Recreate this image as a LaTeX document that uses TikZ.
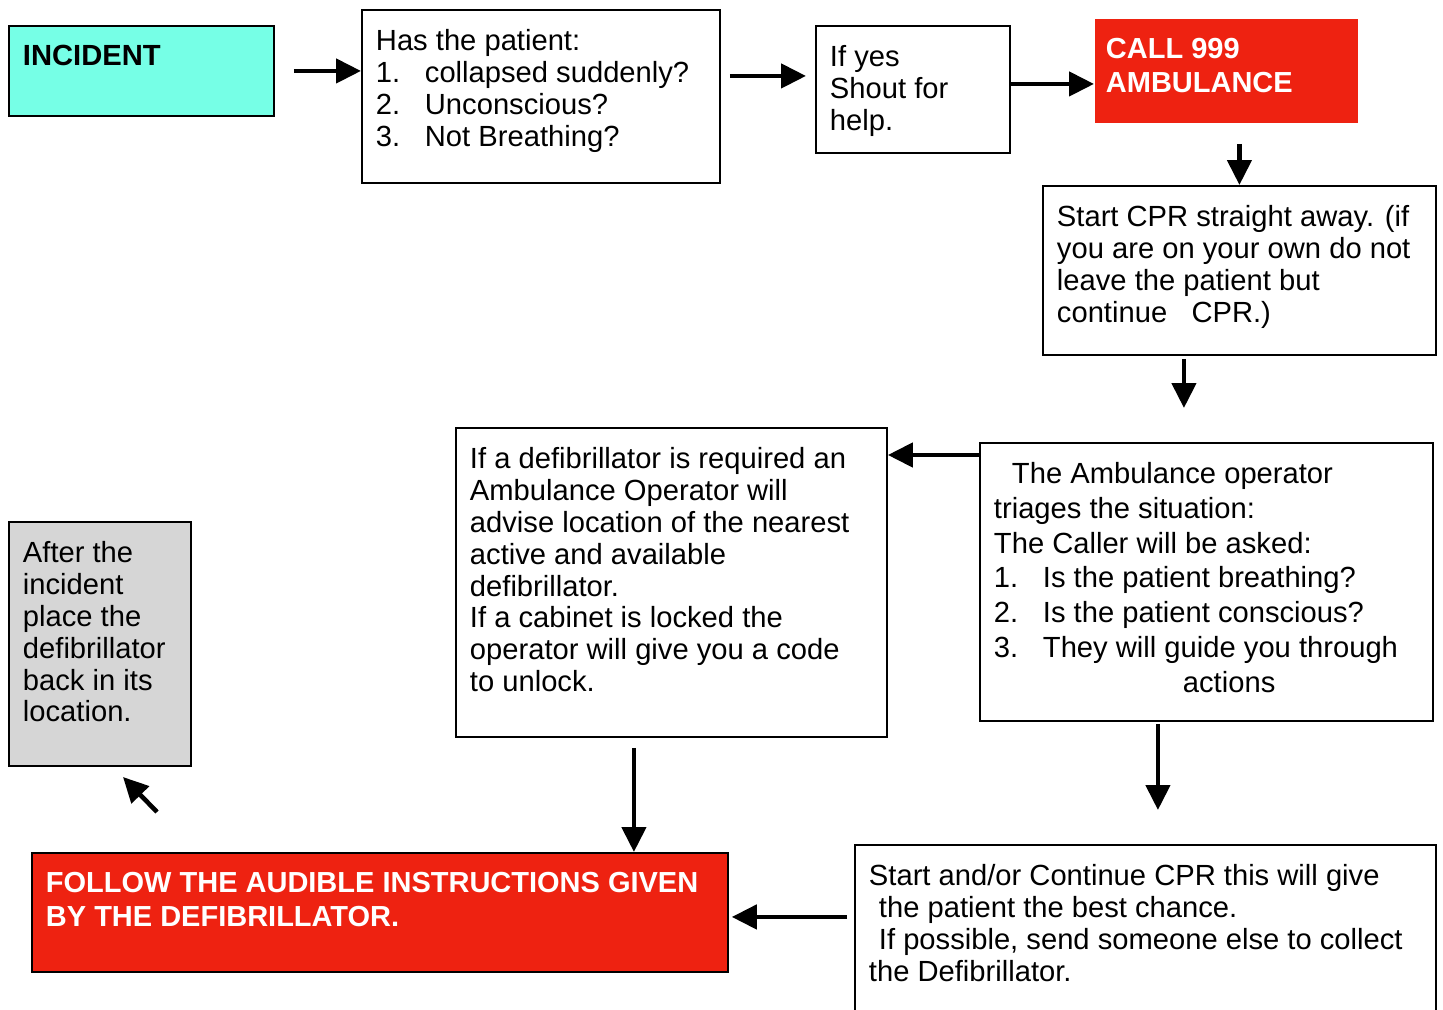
\documentclass[tikz,border=0pt]{standalone}
\usepackage{fontspec}
\setmainfont{Liberation Sans}
\usetikzlibrary{arrows.meta}
\definecolor{incidentcyan}{RGB}{118,255,230}
\definecolor{callred}{RGB}{238,34,17}
\definecolor{aftergrey}{RGB}{214,214,214}
\newcommand{\boxtext}[3]{\parbox[c][#2][t]{#1}{\raggedright #3}}
\newcommand{\listno}[1]{\makebox[0.98cm][l]{#1}}
\begin{document}
\begin{tikzpicture}[x=0.02cm, y=-0.02cm,
  box/.style={draw, line width=1.1pt, anchor=north west, inner xsep=0.28cm, inner ysep=0.38cm, font=\fontsize{16.6}{18.2}\selectfont},
  loud/.style={text=white, font=\fontsize{16.5}{19.4}\selectfont\bfseries},
  arr/.style={line width=2.6pt, -{Triangle[length=0.5cm,width=0.48cm]}}]%
  \useasboundingbox (0,0) rectangle (1443,1010);
  \node [box, fill=incidentcyan] (incident) at (8,25) {\boxtext{4.74cm}{1.04cm}{\bfseries INCIDENT}};
  \node [box] (patient) at (361,9) {\boxtext{6.60cm}{2.70cm}{Has the patient:\\ \listno{1.}collapsed suddenly?\\ \listno{2.}Unconscious?\\ \listno{3.}Not Breathing?}};
  \node [box] (yes) at (815,25) {\boxtext{3.32cm}{1.78cm}{If yes\\ Shout for\\ help.}};
  \node [box, draw=none, fill=callred, loud, inner xsep=0.22cm] (call) at (1094,18) {\boxtext{4.82cm}{1.32cm}{CALL 999\\ AMBULANCE}};
  \node [box] (cpr) at (1042,185) {\boxtext{7.30cm}{2.62cm}{Start CPR straight away. (if\\ you are on your own do not\\ leave the patient but\\ continue\ \ \ CPR.)}};
  \node [box, font=\fontsize{16.6}{19.9}\selectfont] (triage) at (979,442) {\boxtext{8.50cm}{4.80cm}{\hspace*{0.36cm}The Ambulance operator\\ triages the situation:\\ The Caller will be asked:\\ \listno{1.}Is the patient breathing?\\ \listno{2.}Is the patient conscious?\\ \listno{3.}They will guide you through\\ \hspace*{3.78cm}actions}};
  \node [box] (defib) at (455,427) {\boxtext{8.06cm}{5.42cm}{If a defibrillator is required an\\ Ambulance Operator will\\ advise location of the nearest\\ active and available\\ defibrillator.\\ If a cabinet is locked the\\ operator will give you a code\\ to unlock.}};
  \node [box, fill=aftergrey] (after) at (8,521) {\boxtext{3.08cm}{4.12cm}{After the\\ incident\\ place the\\ defibrillator\\ back in its\\ location.}};
  \node [box, fill=callred, loud] (follow) at (31,852) {\boxtext{13.36cm}{1.62cm}{FOLLOW THE AUDIBLE INSTRUCTIONS GIVEN\\ BY THE DEFIBRILLATOR.}};
  \node [box] (keepcpr) at (854,844) {\boxtext{11.06cm}{2.96cm}{Start and/or Continue CPR this will give\\ \hspace*{0.2cm}the patient the best chance.\\ \hspace*{0.2cm}If possible, send someone else to collect\\ the Defibrillator.}};
  % arrows
  \coordinate (p2) at ([yshift=0.41cm]patient.east);
  \coordinate (y3) at ([yshift=0.11cm]yes.east);
  \coordinate (c5) at ([xshift=-1.11cm]cpr.south);
  \coordinate (t6) at ([yshift=-0.26cm]triage.north west);
  \coordinate (t7) at ([xshift=-0.97cm]triage.south);
  \coordinate (d8) at ([xshift=-0.75cm]defib.south);
  \coordinate (f9) at ([yshift=-0.09cm]follow.east);
  \coordinate (backtail) at (157,812);
  \coordinate (backtip) at (123,777);
  \draw [arr, shorten <=0.38cm] (incident.east) -- (incident.east -| patient.west);
  \draw [arr, shorten <=0.18cm, shorten >=0.18cm] (p2) -- (p2 -| yes.west);
  \draw [arr] (y3) -- (y3 -| call.west);
  \draw [arr, shorten <=0.4cm] (cpr.north |- call.south) -- (cpr.north);
  \draw [arr, shorten <=0.06cm, shorten >=0.68cm] (c5) -- (c5 |- triage.north);
  \draw [arr] (t6) -- (t6 -| defib.east);
  \draw [arr, shorten <=0.04cm, shorten >=0.68cm] (t7) -- (t7 |- keepcpr.north);
  \draw [arr, shorten <=0.2cm] (d8) -- (d8 |- follow.north);
  \draw [arr, shorten <=0.14cm, shorten >=0.06cm] (f9 -| keepcpr.west) -- (f9);
  \draw [arr] (backtail) -- (backtip);
\end{tikzpicture}
\end{document}
